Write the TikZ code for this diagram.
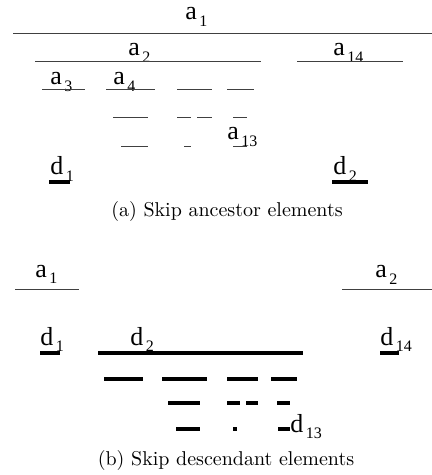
\documentclass[tikz,border=0pt]{standalone}
\usepackage{fontspec}
\newfontfamily\tms{Liberation Serif}
\usetikzlibrary{positioning}
\newcommand{\elem}[2]{#1\kern1.2pt\raisebox{-3.3pt}{\fontsize{8}{8}\selectfont #2}}

\begin{document}
\begin{tikzpicture}[x=0.5pt, y=-0.5pt,
    lbl/.style={font=\tms\fontsize{13}{13}\selectfont, inner sep=0pt, anchor=base west},
    seg/.style={draw=black!75, line width=0.5pt},
    bar/.style={draw=black, line width=2pt},
    captext/.style={font=\normalsize, inner sep=0pt}
  ]
  \useasboundingbox (0,0) rectangle (432,475);
  % (a) skip ancestor elements
  \node[lbl] (ta1) at (185,20) {\elem{a}{1}};
  \node[lbl] (ta2) at (128,56) {\elem{a}{2}};
  \node[lbl] (ta14) at (333,56) {\elem{a}{14}};
  \node[lbl] (ta3) at (50,85) {\elem{a}{3}};
  \node[lbl] (ta4) at (113,85) {\elem{a}{4}};
  \node[lbl] (ta13) at (227,140) {\elem{a}{13}};
  \node[lbl] (td1) at (50,175) {\elem{d}{1}};
  \node[lbl] (td2) at (333,175) {\elem{d}{2}};
  \draw[seg] (13,34) -- (432,34);
  \draw[seg] (35,62) -- (261,62);
  \draw[seg] (297,62) -- (403,62);
  \foreach \xa/\xb/\y in {42/85/90, 106/155/90, 177/212/90, 227/254/90,
      113/148/118, 177/191/118, 197/212/118, 233/247/118,
      121/148/147, 184/191/147, 233/247/147}
    \draw[seg] (\xa,\y) -- (\xb,\y);
  \draw[bar] (49,182) -- (70,182);
  \draw[bar] (332,182) -- (368,182);
  \node[captext] (capa) at (227,212) {(a) Skip ancestor elements};
  % (b) skip descendant elements
  \node[lbl] (ba1) at (35,277) {\elem{a}{1}};
  \node[lbl] (ba2) at (375,278) {\elem{a}{2}};
  \node[lbl] (bd1) at (40,345) {\elem{d}{1}};
  \node[lbl] (bd2) at (130,345) {\elem{d}{2}};
  \node[lbl] (bd14) at (380,345) {\elem{d}{14}};
  \node[lbl] (bd13) at (290,432) {\elem{d}{13}};
  \draw[seg] (15,289) -- (79,289);
  \draw[seg] (342,289) -- (432,289);
  \draw[bar] (40,353) -- (60,353);
  \draw[bar] (98,353) -- (303,353);
  \draw[bar] (380,353) -- (399,353);
  \foreach \xa/\xb/\y in {104/143/379, 162/207/379, 227/258/379, 271/297/379,
      168/200/403, 227/240/403, 246/258/403, 277/290/403,
      176/200/429, 233/237/429, 278/290/429}
    \draw[bar] (\xa,\y) -- (\xb,\y);
  \node[captext] (capb) at (226,460) {(b) Skip descendant elements};
\end{tikzpicture}
\end{document}
